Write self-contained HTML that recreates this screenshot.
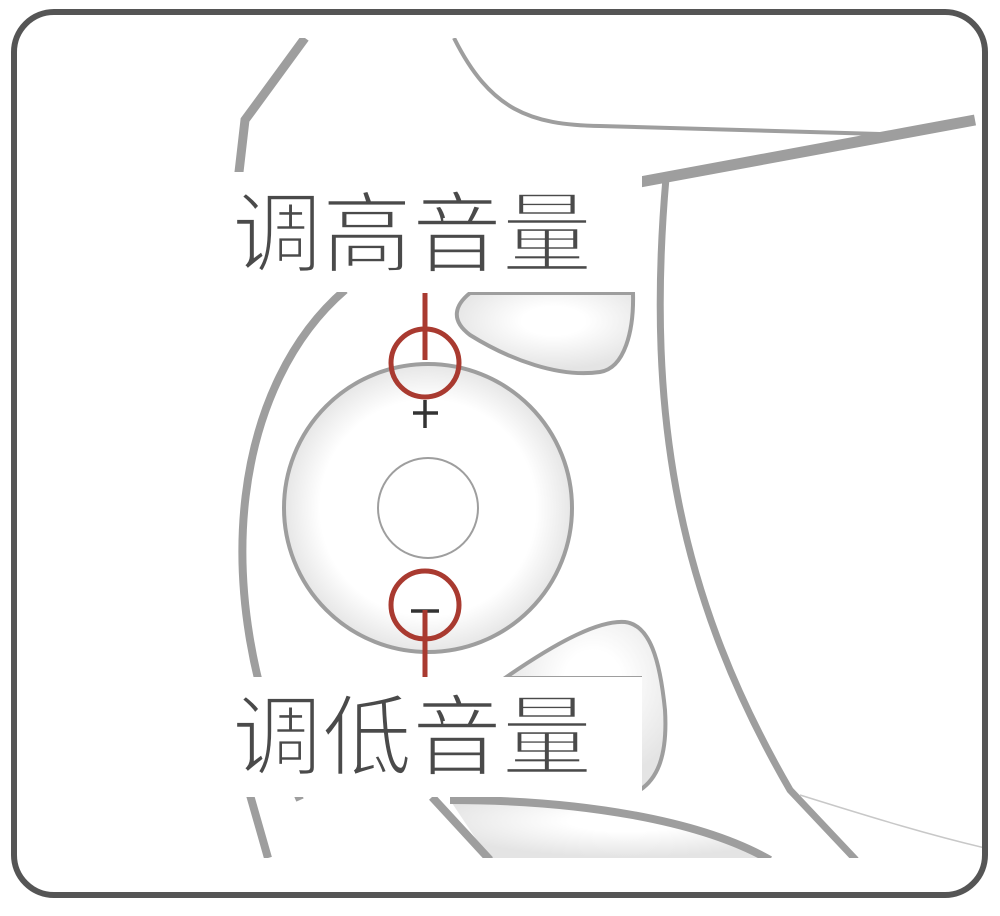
<!DOCTYPE html>
<html><head><meta charset="utf-8"><style>
html,body{margin:0;padding:0;background:#fff;width:1000px;height:916px;overflow:hidden}
</style></head><body>
<svg width="1000" height="916" viewBox="0 0 1000 916" xmlns="http://www.w3.org/2000/svg">
<defs>
<radialGradient id="g" cx="50%" cy="50%" r="50%"><stop offset="0.75" stop-color="#fff"/><stop offset="1" stop-color="#e6e6e6"/></radialGradient>
<radialGradient id="g2" cx="55%" cy="35%" r="60%"><stop offset="0.3" stop-color="#fff"/><stop offset="1" stop-color="#e4e4e4"/></radialGradient>
<clipPath id="c"><rect x="215" y="38" width="768" height="820"/></clipPath>
</defs>
<g clip-path="url(#c)" fill="none" stroke="#9e9e9e" stroke-linecap="butt">
<path d="M305 38 L245 120 L230 250" stroke-width="9"/>
<path d="M345 290 C240 380 200 580 300 800" stroke-width="8"/>
<path d="M250 795 L268 858" stroke-width="8"/>
<path d="M454 38 C490 110 530 125 600 126 L880 134" stroke-width="4"/>
<path d="M640 182 L975 120" stroke-width="11"/>
<path d="M666 178 C645 420 680 600 790 790 L856 860" stroke-width="7"/>
<path d="M800 795 C880 820 930 835 985 848" stroke-width="1.5" stroke="#c8c8c8"/>
<path d="M470 293 C455 305 450 320 470 335 C510 360 560 378 600 372 C625 368 634 330 633 293 Z" fill="url(#g2)" stroke-width="4"/>
<circle cx="428" cy="508" r="144" fill="url(#g)" stroke-width="4"/>
<circle cx="428" cy="508" r="50" fill="#fff" stroke-width="2"/>
<path d="M505 678 C560 640 600 620 625 622 C650 625 660 660 665 710 C668 760 655 780 640 790 L640 678 Z" fill="url(#g2)" stroke-width="4"/>
<path d="M450 800 C580 800 700 820 770 860 L490 860 Z" fill="url(#g2)" stroke="none"/>
<path d="M432 797 L490 860" stroke-width="8"/>
<path d="M450 800 C580 800 700 820 770 860" stroke-width="8"/>
</g>
<rect x="210" y="172" width="432" height="120" fill="#fff"/>
<rect x="210" y="677" width="432" height="120" fill="#fff"/>
<path d="M425 400 V428 M413 413 H438" stroke="#333" stroke-width="3.5"/>
<path d="M411 611 H439" stroke="#333" stroke-width="3.5"/>
<g stroke="#a93a30" fill="none">
<line x1="425" y1="293" x2="425" y2="360" stroke-width="5"/>
<circle cx="425" cy="363" r="34" stroke-width="5"/>
<line x1="425" y1="610" x2="425" y2="677" stroke-width="5"/>
<circle cx="425" cy="605" r="34" stroke-width="5"/>
</g>
<rect x="14" y="12" width="971" height="883" rx="40" ry="40" fill="none" stroke="#555" stroke-width="6"/>
<g font-family="'Liberation Sans','Noto Sans CJK SC',sans-serif" font-size="88" fill="#4a4a4a" stroke="#fff" stroke-width="2.5">
<text x="232" y="265" textLength="360" lengthAdjust="spacingAndGlyphs">调高音量</text>
<text x="232" y="768" textLength="360" lengthAdjust="spacingAndGlyphs">调低音量</text>
</g>
</svg>
</body></html>
